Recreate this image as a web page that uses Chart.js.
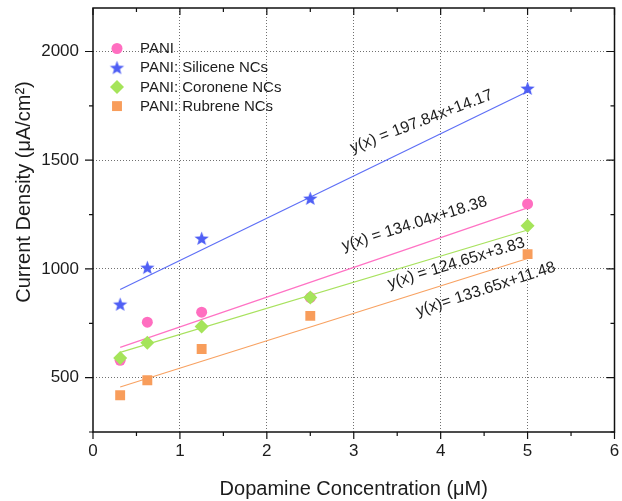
<!DOCTYPE html>
<html>
<head>
<meta charset="utf-8">
<script src="https://cdn.jsdelivr.net/npm/chart.js@4/dist/chart.umd.min.js"></script>
<style>
  html, body { margin: 0; padding: 0; background: #ffffff; }
  canvas { display: block; }
</style>
</head>
<body>
<canvas id="c" width="622" height="501"></canvas>
<script>
// ---------- DATA ----------
const concentrations = [0.3125, 0.625, 1.25, 2.5, 5];
const paniValues      = [580, 755, 801, 868, 1299];
const siliceneValues  = [837, 1006, 1140, 1324, 1830];
const coroneneValues  = [590, 661, 735, 868, 1199];
const rubreneValues   = [419, 488, 632, 784, 1068];

const fitX           = [0.3125, 5];
const paniFit        = [639, 1281];
const siliceneFit    = [905, 1816];
const coroneneFit    = [616, 1179];
const rubreneFit     = [457, 1048];

const seriesLabels = ['PANI', 'PANI: Silicene NCs', 'PANI: Coronene NCs', 'PANI: Rubrene NCs'];
const equations = ['y(x) = 134.04x+18.38', 'y(x) = 197.84x+14.17', 'y(x) = 124.65x+3.83', 'y(x)= 133.65x+11.48'];
const xTickValues = [0, 0.5, 1, 1.5, 2, 2.5, 3, 3.5, 4, 4.5, 5, 5.5, 6];
const xTickLabels = ['0', '', '1', '', '2', '', '3', '', '4', '', '5', '', '6'];
const yTickValues = [250, 500, 750, 1000, 1250, 1500, 1750, 2000];
const yTickLabels = ['', '500', '', '1000', '', '1500', '', '2000'];

// ---------- STYLE ----------
const colPink = '#ff6ec0', colBlue = '#4f5ff5', colGreen = '#a5e45a', colOrange = '#f89d5b';
const lineBlue = '#5e6ff6', linePink = '#ff72c4', lineGreen = '#a8e25e', lineOrange = '#f8a262';
const FONT = '"Liberation Sans", Arial, sans-serif';
const TXT = '#1c1c1c';

// equation annotation anchors (data coords) and angles
const eqAnchorX = [3.70, 3.78, 4.18, 4.52];
const eqAnchorY = [1207, 1678, 1026, 906];
const eqAngle   = [-17.5, -21, -17, -18];

function makeStar(color, r) {
  const s = Math.ceil(r * 2 + 2);
  const cv = document.createElement('canvas');
  cv.width = s; cv.height = s;
  const g = cv.getContext('2d');
  const cx = s / 2, cy = s / 2 + 0.5, ri = r * 0.42;
  g.beginPath();
  for (let i = 0; i < 10; i++) {
    const rr = i % 2 === 0 ? r : ri;
    const a = -Math.PI / 2 + i * Math.PI / 5;
    const px = cx + rr * Math.cos(a), py = cy + rr * Math.sin(a);
    if (i === 0) g.moveTo(px, py); else g.lineTo(px, py);
  }
  g.closePath();
  g.fillStyle = color;
  g.fill();
  return cv;
}
const starImg = makeStar(colBlue, 7.5);

function pts(xs, ys) { return xs.map((x, i) => ({ x: x, y: ys[i] })); }

const markerStyles = [
  { style: 'circle', radius: 5.5, color: colPink },
  { style: starImg, radius: 7.5, color: colBlue },
  { style: 'rectRot', radius: 7, color: colGreen },
  { style: 'rect', radius: 7, color: colOrange }
];

const fitDataset = (ys, color) => ({
  label: '', data: pts(fitX, ys), showLine: true, borderColor: color, borderWidth: 1.2,
  pointRadius: 0, pointHoverRadius: 0, order: 10, fill: false
});
const scatterDataset = (label, ys, m, order) => ({
  label: label, data: pts(concentrations, ys), showLine: false,
  pointStyle: m.style, pointRadius: m.radius, pointHoverRadius: m.radius,
  backgroundColor: m.color, borderColor: m.color, borderWidth: 0, order: order
});

const xLabelFor = v => { const i = xTickValues.findIndex(t => Math.abs(t - v) < 1e-6); return i < 0 ? '' : xTickLabels[i]; };
const yLabelFor = v => { const i = yTickValues.findIndex(t => Math.abs(t - v) < 1e-6); return i < 0 ? '' : yTickLabels[i]; };

// ---------- PLUGIN: frame, ticks, legend, annotations, y title ----------
const decor = {
  id: 'decor',
  afterDraw(chart) {
    const ctx = chart.ctx, a = chart.chartArea;
    const xs = chart.scales.x, ys = chart.scales.y;
    ctx.save();
    // frame
    ctx.strokeStyle = '#111'; ctx.lineWidth = 1.5;
    ctx.strokeRect(a.left, a.top, a.right - a.left, a.bottom - a.top);
    // tick marks
    ctx.lineWidth = 1.2;
    ctx.beginPath();
    xs.ticks.forEach(t => {
      const p = xs.getPixelForValue(t.value);
      const L = xLabelFor(t.value) ? 7 : 4;
      ctx.moveTo(p, a.bottom); ctx.lineTo(p, a.bottom + L);
      ctx.moveTo(p, a.top); ctx.lineTo(p, a.top + L);
    });
    ys.ticks.forEach(t => {
      const p = ys.getPixelForValue(t.value);
      const L = yLabelFor(t.value) ? 8 : 4;
      ctx.moveTo(a.left, p); ctx.lineTo(a.left - L, p);
      ctx.moveTo(a.right, p); ctx.lineTo(a.right - L, p);
    });
    ctx.stroke();

    // legend
    const lx = 117, ly0 = 48.5, dy = 19.2;
    ctx.font = '15px ' + FONT; ctx.textBaseline = 'middle'; ctx.textAlign = 'left';
    seriesLabels.forEach((lab, i) => {
      const m = markerStyles[i], y = ly0 + i * dy;
      ctx.fillStyle = m.color;
      if (m.style === 'circle') { ctx.beginPath(); ctx.arc(lx, y, m.radius, 0, Math.PI * 2); ctx.fill(); }
      else if (m.style === 'rectRot') { ctx.beginPath(); ctx.moveTo(lx - m.radius, y); ctx.lineTo(lx, y - m.radius); ctx.lineTo(lx + m.radius, y); ctx.lineTo(lx, y + m.radius); ctx.closePath(); ctx.fill(); }
      else if (m.style === 'rect') { const h = m.radius * Math.SQRT1_2; ctx.fillRect(lx - h, y - h, 2 * h, 2 * h); }
      else { ctx.drawImage(m.style, lx - m.style.width / 2, y - m.style.height / 2); }
      ctx.fillStyle = TXT;
      ctx.fillText(lab, 140, y + 0.5);
    });

    // equation annotations
    ctx.font = '16px ' + FONT; ctx.textAlign = 'center'; ctx.textBaseline = 'middle';
    ctx.fillStyle = TXT;
    equations.forEach((eq, i) => {
      const px = xs.getPixelForValue(eqAnchorX[i]), py = ys.getPixelForValue(eqAnchorY[i]);
      ctx.save(); ctx.translate(px, py); ctx.rotate(eqAngle[i] * Math.PI / 180);
      ctx.fillText(eq, 0, 0); ctx.restore();
    });

    // y-axis title
    ctx.save();
    ctx.translate(24, 192); ctx.rotate(-Math.PI / 2);
    ctx.font = '20px ' + FONT; ctx.fillStyle = TXT;
    ctx.fillText('Current Density (\u03BCA/cm\u00B2)', 0, 0);
    ctx.restore();
    ctx.restore();
  }
};

new Chart(document.getElementById('c'), {
  type: 'scatter',
  data: {
    datasets: [
      fitDataset(paniFit, linePink),
      fitDataset(siliceneFit, lineBlue),
      fitDataset(coroneneFit, lineGreen),
      fitDataset(rubreneFit, lineOrange),
      scatterDataset(seriesLabels[0], paniValues, markerStyles[0], 4),
      scatterDataset(seriesLabels[1], siliceneValues, markerStyles[1], 3),
      scatterDataset(seriesLabels[2], coroneneValues, markerStyles[2], 2),
      scatterDataset(seriesLabels[3], rubreneValues, markerStyles[3], 1)
    ]
  },
  options: {
    responsive: false,
    animation: false,
    events: [],
    layout: { padding: { top: 8, right: 2, left: 0, bottom: 0 } },
    plugins: { legend: { display: false }, tooltip: { enabled: false } },
    scales: {
      x: {
        type: 'linear', min: 0, max: 6,
        afterBuildTicks: s => { s.ticks = xTickValues.map(v => ({ value: v })); },
        ticks: {
          autoSkip: false, maxRotation: 0, minRotation: 0, padding: 9,
          color: TXT, font: { family: FONT, size: 17 },
          callback: v => xLabelFor(v)
        },
        grid: {
          drawTicks: false, lineWidth: 1,
          color: c => (c.tick && xLabelFor(c.tick.value) && c.tick.value > 0 && c.tick.value < 6) ? '#707070' : 'rgba(0,0,0,0)'
        },
        border: { display: false, dash: [1, 2] },
        title: {
          display: true, text: 'Dopamine Concentration (\u03BCM)', color: TXT,
          font: { family: FONT, size: 20 }, padding: { top: 8, bottom: 0 }
        },
        afterFit: s => { s.height = 69; s.paddingLeft = 0; s.paddingRight = 0; }
      },
      y: {
        type: 'linear', min: 250, max: 2200,
        afterBuildTicks: s => { s.ticks = yTickValues.map(v => ({ value: v })); },
        ticks: {
          autoSkip: false, padding: 14,
          color: TXT, font: { family: FONT, size: 17 },
          callback: v => yLabelFor(v)
        },
        grid: {
          drawTicks: false, lineWidth: 1,
          color: c => (c.tick && yLabelFor(c.tick.value)) ? '#707070' : 'rgba(0,0,0,0)'
        },
        border: { display: false, dash: [1, 2] },
        afterFit: s => { s.width = 93; s.paddingTop = 0; s.paddingBottom = 0; }
      }
    }
  },
  plugins: [decor]
});
</script>
</body>
</html>
